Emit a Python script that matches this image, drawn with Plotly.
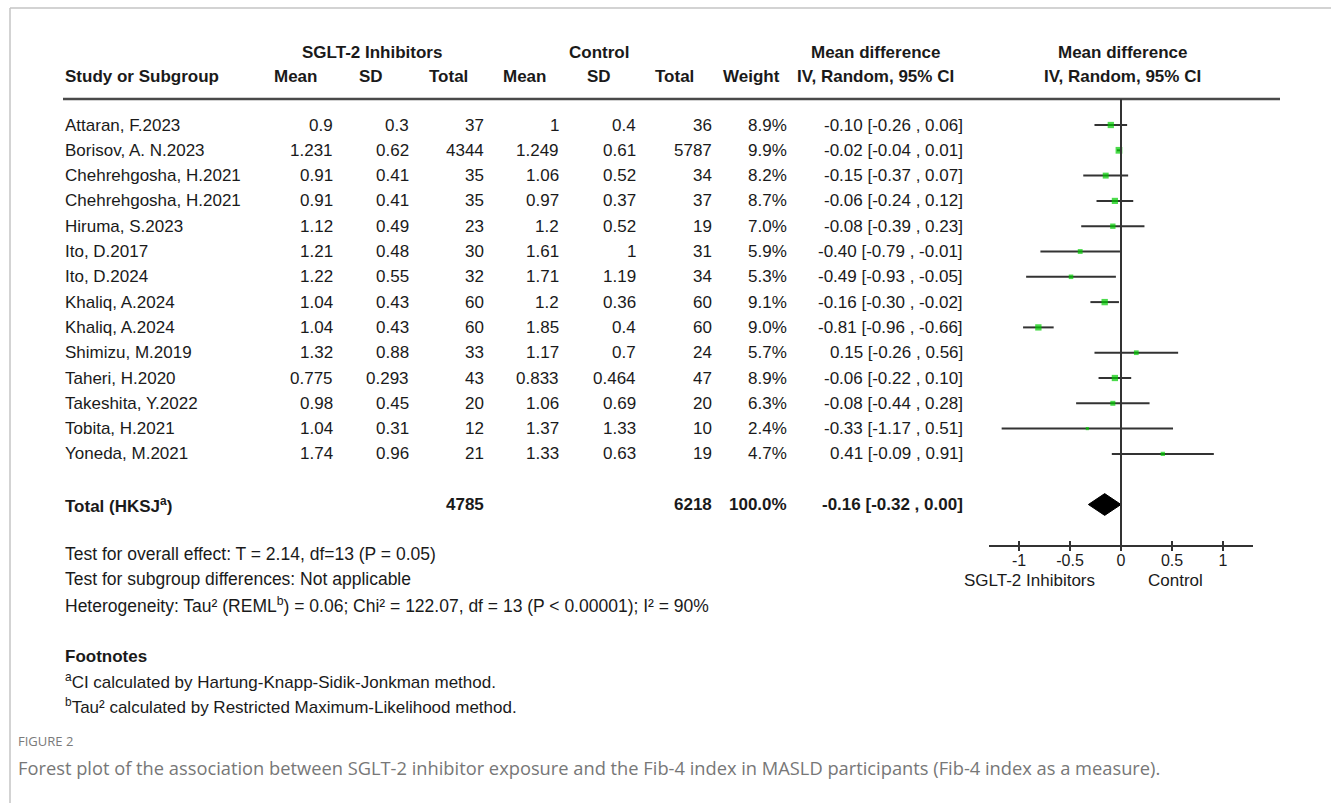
import plotly.graph_objects as go

# ---- study data ----
studies = ["Attaran, F.2023", "Borisov, A. N.2023", "Chehrehgosha, H.2021", "Chehrehgosha, H.2021",
           "Hiruma, S.2023", "Ito, D.2017", "Ito, D.2024", "Khaliq, A.2024", "Khaliq, A.2024",
           "Shimizu, M.2019", "Taheri, H.2020", "Takeshita, Y.2022", "Tobita, H.2021", "Yoneda, M.2021"]
sglt_mean = [0.9, 1.231, 0.91, 0.91, 1.12, 1.21, 1.22, 1.04, 1.04, 1.32, 0.775, 0.98, 1.04, 1.74]
sglt_sd = [0.3, 0.62, 0.41, 0.41, 0.49, 0.48, 0.55, 0.43, 0.43, 0.88, 0.293, 0.45, 0.31, 0.96]
sglt_n = [37, 4344, 35, 35, 23, 30, 32, 60, 60, 33, 43, 20, 12, 21]
ctrl_mean = [1, 1.249, 1.06, 0.97, 1.2, 1.61, 1.71, 1.2, 1.85, 1.17, 0.833, 1.06, 1.37, 1.33]
ctrl_sd = [0.4, 0.61, 0.52, 0.37, 0.52, 1, 1.19, 0.36, 0.4, 0.7, 0.464, 0.69, 1.33, 0.63]
ctrl_n = [36, 5787, 34, 37, 19, 31, 34, 60, 60, 24, 47, 20, 10, 19]
weight = [8.9, 9.9, 8.2, 8.7, 7.0, 5.9, 5.3, 9.1, 9.0, 5.7, 8.9, 6.3, 2.4, 4.7]
md = [-0.10, -0.02, -0.15, -0.06, -0.08, -0.40, -0.49, -0.16, -0.81, 0.15, -0.06, -0.08, -0.33, 0.41]
md_lo = [-0.26, -0.04, -0.37, -0.24, -0.39, -0.79, -0.93, -0.30, -0.96, -0.26, -0.22, -0.44, -1.17, -0.09]
md_hi = [0.06, 0.01, 0.07, 0.12, 0.23, -0.01, -0.05, -0.02, -0.66, 0.56, 0.10, 0.28, 0.51, 0.91]

total_sglt_n = 4785
total_ctrl_n = 6218
total_weight = 100.0
pooled_md, pooled_lo, pooled_hi = -0.16, -0.32, 0.00

tick_vals = [-1, -0.5, 0, 0.5, 1]
tick_text = ["-1", "-0.5", "0", "0.5", "1"]

# ---- page geometry (pixels) ----
W, H = 1331, 803
ROW0, ROW_STEP = 125, 25.3
TOTAL_ROW = 15
FONT = "Liberation Sans, Arial, sans-serif"
INK = "#1a1a1a"
LINE = "#333333"
GREEN = "#00cc00"


def px(p):
    return p / W


def py(p):
    return 1 - p / H


def fmt_ci(m, lo, hi):
    return f"{m:.2f} [{lo:.2f} , {hi:.2f}]"


rows = list(range(len(studies)))

fig = go.Figure()

# confidence interval segments
ci_x, ci_y = [], []
for r, lo, hi in zip(rows, md_lo, md_hi):
    ci_x += [lo, hi, None]
    ci_y += [r, r, None]
fig.add_trace(go.Scatter(x=ci_x, y=ci_y, mode="lines", line=dict(color=LINE, width=2),
                         hoverinfo="skip", showlegend=False))

# point estimates, square size by weight
fig.add_trace(go.Scatter(x=md, y=rows, mode="markers",
                         marker=dict(symbol="square", color=GREEN,
                                     size=[2 + 0.48 * w for w in weight], line=dict(width=0)),
                         showlegend=False))

# pooled estimate diamond
dh = 0.43
fig.add_trace(go.Scatter(x=[pooled_lo, pooled_md, pooled_hi, pooled_md, pooled_lo],
                         y=[TOTAL_ROW, TOTAL_ROW - dh, TOTAL_ROW, TOTAL_ROW + dh, TOTAL_ROW],
                         mode="lines", fill="toself", fillcolor="#000000",
                         line=dict(color="#000000", width=1), showlegend=False))

ann = []


def text(x, y, s, anchor="left", bold=False, size=17, color=INK, family=FONT, yref="y"):
    if bold:
        s = f"<b>{s}</b>"
    ann.append(dict(x=px(x), y=y if yref == "y" else py(y), xref="paper", yref=yref,
                    text=s, showarrow=False, xanchor=anchor, yanchor="middle",
                    font=dict(size=size, color=color, family=family)))


# headers
for x, s in [(372, "SGLT-2 Inhibitors"), (599, "Control"), (875, "Mean difference"),
             (1122, "Mean difference")]:
    text(x, 52, s, "center", True, yref="paper")
text(63, 76, "Study or Subgroup", "left", True, yref="paper")
for x, s in [(295, "Mean"), (371, "SD"), (448, "Total"), (524, "Mean"), (599, "SD"),
             (675, "Total"), (751, "Weight"), (875, "IV, Random, 95% CI"), (1122, "IV, Random, 95% CI")]:
    text(x, 76, s, "center", True, yref="paper")

# study rows
col_right = [335, 411, 486, 561, 638, 714, 789]
for r in rows:
    text(63, r, studies[r])
    vals = [f"{sglt_mean[r]:g}", f"{sglt_sd[r]:g}", f"{sglt_n[r]}",
            f"{ctrl_mean[r]:g}", f"{ctrl_sd[r]:g}", f"{ctrl_n[r]}", f"{weight[r]:.1f}%"]
    for x, v in zip(col_right, vals):
        text(x, r, v, "right")
    text(965, r, fmt_ci(md[r], md_lo[r], md_hi[r]), "right")

# total row
text(63, TOTAL_ROW, "Total (HKSJ<sup>a</sup>)", bold=True)
text(col_right[2], TOTAL_ROW, f"{total_sglt_n}", "right", True)
text(col_right[5], TOTAL_ROW, f"{total_ctrl_n}", "right", True)
text(col_right[6], TOTAL_ROW, f"{total_weight:.1f}%", "right", True)
text(965, TOTAL_ROW, fmt_ci(pooled_md, pooled_lo, pooled_hi), "right", True)

# tests and footnotes
text(63, 554, "Test for overall effect: T = 2.14, df=13 (P = 0.05)", size=17.5, yref="paper")
text(63, 579, "Test for subgroup differences: Not applicable", size=17.5, yref="paper")
text(63, 605, "Heterogeneity: Tau² (REML<sup>b</sup>) = 0.06; Chi² = 122.07, df = 13 (P &lt; 0.00001); I² = 90%",
     size=17.5, yref="paper")
text(63, 656, "Footnotes", bold=True, yref="paper")
text(63, 681, "<sup>a</sup>CI calculated by Hartung-Knapp-Sidik-Jonkman method.", yref="paper")
text(63, 706, "<sup>b</sup>Tau² calculated by Restricted Maximum-Likelihood method.", yref="paper")

# axis side labels
text(1029, 580, "SGLT-2 Inhibitors", "center", yref="paper")
text(1175, 580, "Control", "center", yref="paper")

# figure caption
CAP = "Open Sans, Noto Sans, sans-serif"
text(16, 741, "FIGURE 2", size=13, color="#7a7a7a", family=CAP, yref="paper")
text(16, 767, "Forest plot of the association between SGLT-2 inhibitor exposure and the Fib-4 index "
              "in MASLD participants (Fib-4 index as a measure).",
     size=18.3, color="#777777", family=CAP, yref="paper")

axis_y = py(546)
shapes = [
    # card frame
    dict(type="line", xref="paper", yref="paper", x0=px(10), x1=1, y0=py(8), y1=py(8),
         line=dict(color="#c4c4c4", width=1.5)),
    dict(type="line", xref="paper", yref="paper", x0=px(10), x1=px(10), y0=py(8), y1=0,
         line=dict(color="#c4c4c4", width=1.5)),
    # header rule
    dict(type="line", xref="paper", yref="paper", x0=px(63), x1=px(1280), y0=py(99), y1=py(99),
         line=dict(color="#4a4a4a", width=2.5)),
    # line of no effect
    dict(type="line", xref="x", yref="paper", x0=0, x1=0, y0=py(99), y1=axis_y,
         line=dict(color=LINE, width=2)),
]
# tick marks crossing the axis line
for v in tick_vals:
    shapes.append(dict(type="line", xref="x", yref="paper", x0=v, x1=v,
                       y0=axis_y - 5 / H, y1=axis_y + 5 / H,
                       line=dict(color=LINE, width=2)))

fig.update_layout(
    width=W, height=H, margin=dict(l=0, r=0, t=0, b=0),
    paper_bgcolor="white", plot_bgcolor="rgba(0,0,0,0)",
    xaxis=dict(domain=[px(989), px(1253)], range=[-1.294, 1.294], anchor="free", position=axis_y,
               showgrid=False, zeroline=False, showline=True, linecolor=LINE, linewidth=2,
               ticks="", tickvals=tick_vals, ticktext=tick_text,
               tickfont=dict(family=FONT, size=16, color=INK)),
    yaxis=dict(domain=[0, 1], range=[(H - ROW0) / ROW_STEP, -ROW0 / ROW_STEP], visible=False),
    annotations=ann, shapes=shapes, showlegend=False,
)

fig.write_html("out.html")
